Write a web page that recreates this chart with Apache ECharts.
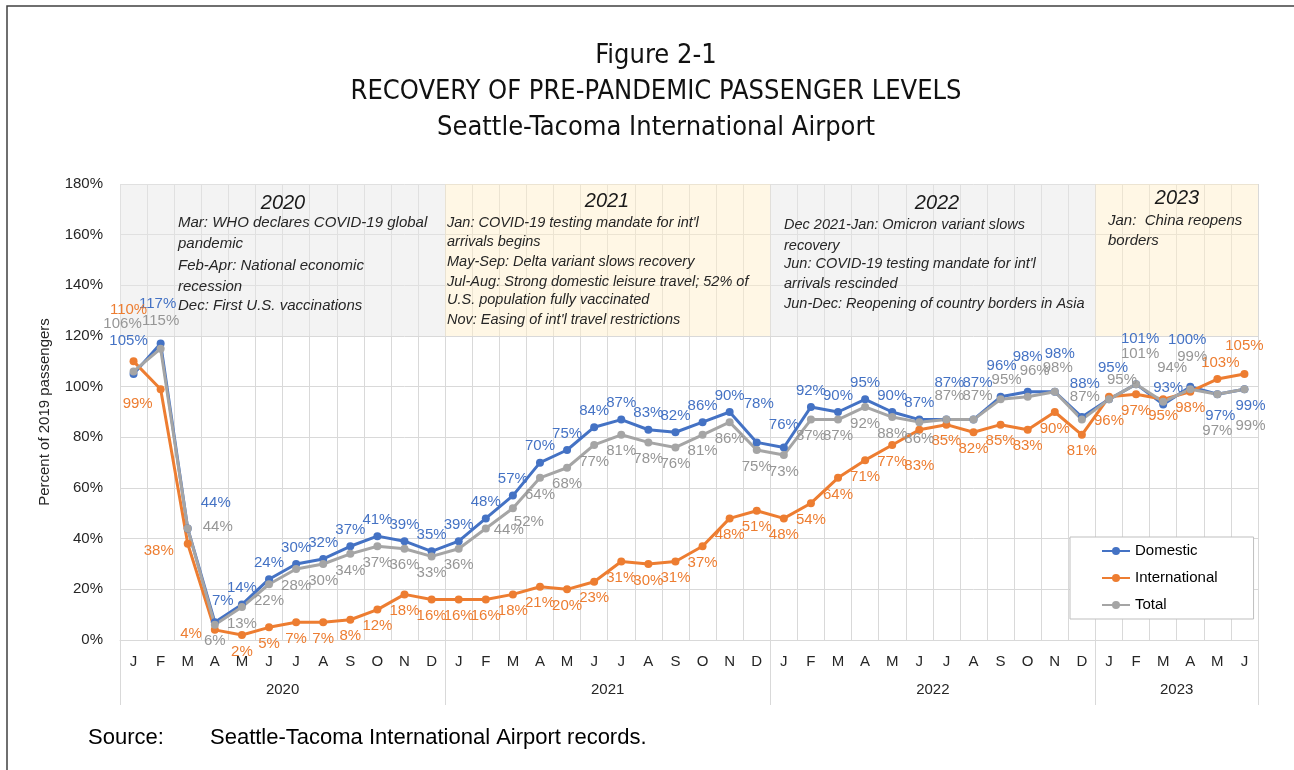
<!DOCTYPE html>
<html><head><meta charset="utf-8">
<script src="https://cdn.jsdelivr.net/npm/echarts@6/dist/echarts.min.js"></script>
<style>html,body{margin:0;padding:0;background:#fff}#c{width:1294px;height:770px}</style>
</head><body><div id="c"></div>
<script>
// ---- data ----
const categories = ['J','F','M','A','M','J','J','A','S','O','N','D',
                    'J','F','M','A','M','J','J','A','S','O','N','D',
                    'J','F','M','A','M','J','J','A','S','O','N','D',
                    'J','F','M','A','M','J'];
const years = ['2020','2021','2022','2023'];
const yearStarts = [0, 12, 24, 36, 42];
const domestic = [105,117,44,7,14,24,30,32,37,41,39,35,
                  39,48,57,70,75,84,87,83,82,86,90,78,
                  76,92,90,95,90,87,87,87,96,98,98,88,
                  95,101,93,100,97,99];
const international = [110,99,38,4,2,5,7,7,8,12,18,16,
                       16,16,18,21,20,23,31,30,31,37,48,51,
                       48,54,64,71,77,83,85,82,85,83,90,81,
                       96,97,95,98,103,105];
const total = [106,115,44,6,13,22,28,30,34,37,36,33,
               36,44,52,64,68,77,81,78,76,81,86,75,
               73,87,87,92,88,86,87,87,95,96,98,87,
               95,101,94,99,97,99];
const yTicks = [0,20,40,60,80,100,120,140,160,180];
const notes = {
  '2020': ['Mar: WHO declares COVID-19 global','pandemic','Feb-Apr: National economic','recession','Dec: First U.S. vaccinations'],
  '2021': ["Jan: COVID-19 testing mandate for int'l",'arrivals begins','May-Sep: Delta variant slows recovery','Jul-Aug: Strong domestic leisure travel; 52% of','U.S. population fully vaccinated',"Nov: Easing of int'l travel restrictions"],
  '2022': ['Dec 2021-Jan: Omicron variant slows','recovery',"Jun: COVID-19 testing mandate for int'l",'arrivals rescinded','Jun-Dec: Reopening of country borders in Asia'],
  '2023': ['Jan:  China reopens','borders']
};

// ---- layout / style (label placement tweaks) ----
const labelTweaks = {
  D: {0:['top',-5,-17],1:['top',-3,-23],2:['top',28,-9],3:['top',8,-5],23:['top',2,-22],24:['top',0,-6],
      30:['top',3,-20],31:['top',4,-20],32:['top',1,-14],33:['top',0,-18],34:['top',5,-21],35:['top',3,-17],
      36:['top',4,-15],37:['top',4,-29],38:['top',5,0],39:['top',-3,-30],40:['bottom',3,5],41:['bottom',6,0]},
  I: {0:['top',-5,-35],1:['bottom',-23,-2],2:['left',-5,7],3:['left',-4,4],29:['bottom',0,20],36:['bottom',0,8],
      40:['top',3,0],41:['top',0,-12]},
  T: {0:['top',-11,-31],1:['top',0,-11],2:['right',6,-2],13:['bottom',23,-15],14:['bottom',16,-3],
      30:['top',3,-7],31:['top',4,-7],32:['top',6,-3],33:['top',7,-9],34:['top',3,-7],35:['top',3,-6],
      36:['top',13,-3],37:['top',4,-14],38:['top',9,-18],39:['top',2,-16],40:['bottom',0,20],41:['bottom',6,20]}
};
const FONT = "'Liberation Sans', Arial, sans-serif";
const NARROW = "'Liberation Sans Narrow', 'DejaVu Sans Condensed', 'Liberation Sans', sans-serif";
const C_DOM = '#4472C4', C_INT = '#ED7D31', C_TOT = '#A5A5A5';

function mkData(arr, key) {
  return arr.map((v, i) => {
    const t = labelTweaks[key][i];
    return t ? {value: v, label: {position: t[0], offset: [t[1], t[2]]}} : v;
  });
}
function mkSeries(name, arr, key, color, labelColor, defPos) {
  return {
    name, type: 'line', data: mkData(arr, key), z: 2,
    symbol: 'circle', symbolSize: 8,
    lineStyle: {width: 3, color}, itemStyle: {color},
    label: {show: true, position: defPos, formatter: '{c}%', color: labelColor,
            fontFamily: FONT, fontSize: 15},
    emphasis: {disabled: true}
  };
}

// annotation graphics
const graphics = [];
graphics.push({type: 'rect', silent: true, z: 100,
  shape: {x: 7, y: 6, width: 1400, height: 900},
  style: {fill: 'transparent', stroke: '#404040', lineWidth: 1.5}});
const boxYearCenters = [[283, 203], [607, 201], [937, 203], [1177, 198]];
const noteX = [178, 447, 784, 1108];
const noteY = {
  '2020': [223, 244, 266, 287, 306],
  '2021': [223, 242, 262, 282, 300, 320],
  '2022': [225, 246, 264, 284, 304],
  '2023': [221, 241]
};
const noteSize = {'2020': 15, '2021': 14.5, '2022': 14.5, '2023': 15};
years.forEach((y, k) => {
  graphics.push({type: 'text', z: 100, silent: true, x: boxYearCenters[k][0], y: boxYearCenters[k][1],
    style: {text: y, fontFamily: FONT, fontStyle: 'italic', fontSize: 20, fill: '#1a1a1a',
            align: 'center', verticalAlign: 'middle'}});
  notes[y].forEach((line, j) => {
    graphics.push({type: 'text', z: 100, silent: true, x: noteX[k], y: noteY[y][j],
      style: {text: line, fontFamily: FONT, fontStyle: 'italic', fontSize: noteSize[y], fill: '#262626',
              align: 'left', verticalAlign: 'middle'}});
  });
});
graphics.push({type: 'text', z: 100, silent: true, x: 88, y: 738,
  style: {text: 'Source:', fontFamily: FONT, fontSize: 22, fill: '#000', verticalAlign: 'middle'}});
graphics.push({type: 'text', z: 100, silent: true, x: 210, y: 738,
  style: {text: 'Seattle-Tacoma International Airport records.', fontFamily: FONT, fontSize: 22, fill: '#000', verticalAlign: 'middle'}});

const boxGray = 'rgba(231,231,231,0.5)', boxYellow = 'rgba(255,239,203,0.5)';
const boxColors = [boxGray, boxYellow, boxGray, boxYellow];

const chart = echarts.init(document.getElementById('c'), null, {renderer: 'canvas'});
chart.setOption({
  backgroundColor: '#fff',
  animation: false,
  title: {
    text: 'Figure 2-1\nRECOVERY OF PRE-PANDEMIC PASSENGER LEVELS\nSeattle-Tacoma International Airport',
    left: 651, top: 33, textAlign: 'center',
    textStyle: {fontFamily: NARROW, fontSize: 27, fontWeight: 'normal', color: '#111', lineHeight: 36}
  },
  grid: {left: 120, right: 36, top: 184, bottom: 130},
  legend: {
    orient: 'vertical', left: 1070, top: 537,
    padding: [5, 36, 5, 31], itemGap: 9, itemWidth: 28, itemHeight: 10,
    backgroundColor: '#fff', borderColor: '#bfbfbf', borderWidth: 1,
    textStyle: {fontFamily: FONT, fontSize: 15, color: '#000', lineHeight: 18},
    data: ['Domestic', 'International', 'Total']
  },
  xAxis: [
    {type: 'category', data: categories, boundaryGap: true, position: 'bottom',
     axisLine: {lineStyle: {color: '#d9d9d9', width: 1}},
     axisTick: {show: false},
     axisLabel: {interval: 0, margin: 14, fontFamily: FONT, fontSize: 15, color: '#262626'},
     splitLine: {show: true, interval: 0, lineStyle: {color: '#d9d9d9', width: 1}}},
    {type: 'value', min: 0, max: 42, position: 'bottom', offset: 0,
     axisLine: {show: false}, splitLine: {show: false},
     axisTick: {show: true, customValues: yearStarts, length: 65, lineStyle: {color: '#d9d9d9', width: 1}},
     axisLabel: {show: true, customValues: [6, 18, 30, 39], margin: 42,
       formatter: v => years[[6, 18, 30, 39].indexOf(v)] || '',
       fontFamily: FONT, fontSize: 15, color: '#262626'}}
  ],
  yAxis: {
    type: 'value', min: yTicks[0], max: yTicks[yTicks.length - 1], interval: 20,
    name: 'Percent of 2019 passengers', nameLocation: 'middle', nameGap: 68, nameRotate: 90,
    nameTextStyle: {fontFamily: FONT, fontSize: 15, color: '#262626'},
    axisLine: {show: false}, axisTick: {show: false},
    axisLabel: {formatter: '{value}%', margin: 17, fontFamily: FONT, fontSize: 15, color: '#262626'},
    splitLine: {lineStyle: {color: '#d9d9d9', width: 1}}
  },
  graphic: graphics,
  series: [
    mkSeries('Domestic', domestic, 'D', C_DOM, C_DOM, 'top'),
    mkSeries('International', international, 'I', C_INT, C_INT, 'bottom'),
    mkSeries('Total', total, 'T', C_TOT, '#969696', 'bottom'),
    {type: 'line', xAxisIndex: 1, yAxisIndex: 0, data: [], z: 10, silent: true,
     markArea: {silent: true, data: years.map((y, k) => [
       {xAxis: yearStarts[k], yAxis: 120, itemStyle: {color: boxColors[k]}},
       {xAxis: yearStarts[k + 1], yAxis: 180}])}}
  ]
});
</script>
</body></html>
